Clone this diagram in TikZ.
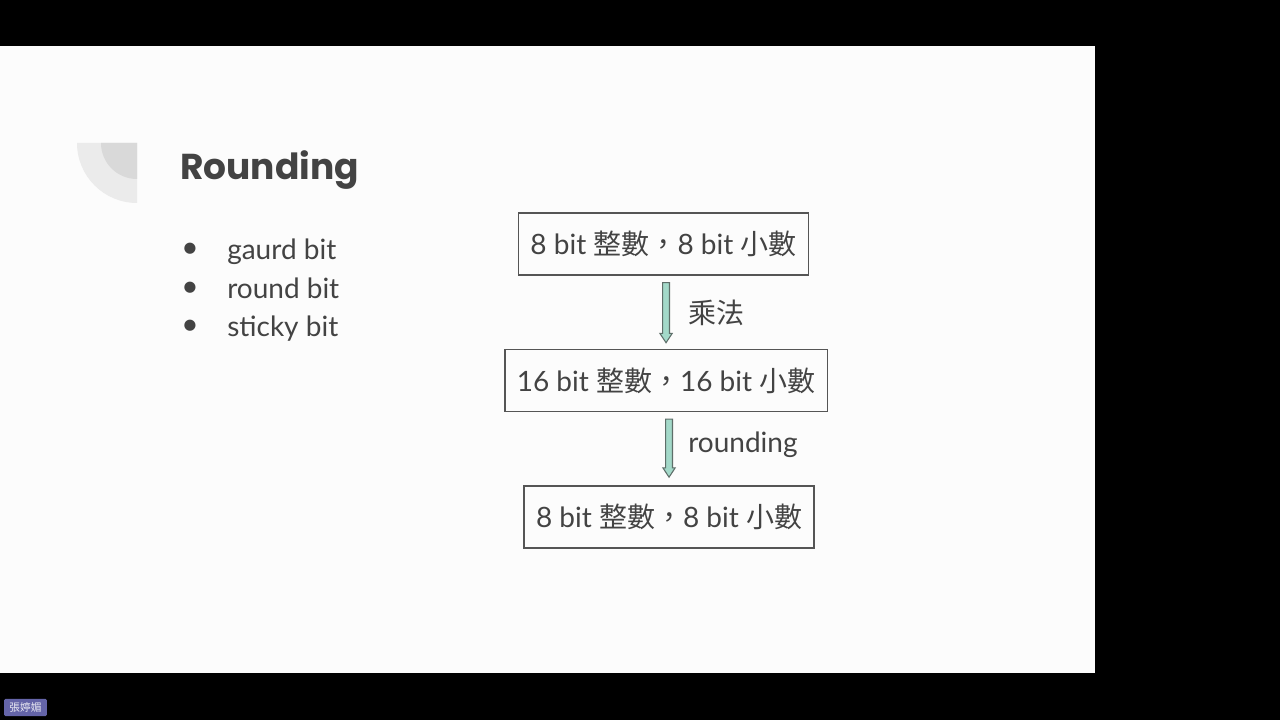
\documentclass[tikz,border=0pt]{standalone}
\usepackage{fontspec}
\setmainfont{Lato}
\newfontfamily\cjk{Noto Sans CJK TC}
\newfontfamily\symb{DejaVu Sans}
\newfontfamily\titlefont{Poppins}
\usetikzlibrary{positioning,calc}
\definecolor{slidetext}{HTML}{434343}
\definecolor{boxline}{HTML}{555555}
\definecolor{mint}{HTML}{A3D9C9}
\definecolor{arrowline}{HTML}{5E6E69}
\definecolor{decolight}{HTML}{EBEBEB}
\definecolor{decodark}{HTML}{D9D9D9}
\definecolor{tagpurple}{HTML}{6464A8}
\tikzset {
        stepbox/.style={align=center, rectangle, draw=boxline, line width=1.1pt, text=slidetext, inner xsep=9pt, inner ysep=0pt, minimum height=46.5pt, font=\fontsize{21}{24}\selectfont},
        lbl/.style={anchor=west, text=slidetext, inner sep=0pt, font=\fontsize{21}{24}\selectfont},
        item/.style={anchor=base west, text=slidetext, inner sep=0pt, font=\fontsize{21}{24}\selectfont},
        dot/.style={text=slidetext, inner sep=0pt, font=\symb\fontsize{11}{11}\selectfont},
        blockarr/.style={draw=arrowline, fill=mint, line width=0.8pt, line join=miter,
            to path={let \p1=(\tikztostart), \p2=(\tikztotarget) in
                (\x1-2.6pt,\y1) -- (\x1-2.6pt,\y2+7pt) -- (\x1-4.6pt,\y2+7pt) -- (\x1,\y2)
                -- (\x1+4.6pt,\y2+7pt) -- (\x1+2.6pt,\y2+7pt) -- (\x1+2.6pt,\y1) -- cycle}}
}
\begin{document}
\begin{tikzpicture}[x=0.75pt, y=-0.75pt]
            \fill[black] (0,0) rectangle (1280,720);
            \fill[white!99!black] (0,46) rectangle (1095,673);
            \useasboundingbox (0,0) rectangle (1280,720);

            \fill[decolight] (137,143) -- (77,143) arc[start angle=180, end angle=90, radius=60] -- cycle;
            \fill[decodark] (137,143) -- (101,143) arc[start angle=180, end angle=90, radius=36] -- cycle;

            \node[anchor=base west, text=slidetext, inner sep=0pt, font=\titlefont\bfseries\fontsize{27}{30}\selectfont] (Title) at (180,180) {Rounding};

            \node[dot] (DotA) at (190,249) {●};
            \node[dot] (DotB) at (190,288) {●};
            \node[dot] (DotC) at (190,326) {●};
            \node[item] (Gaurd) at (227,259) {gaurd bit};
            \node[item] (Round) at (227,298) {round bit};
            \node[item] (Sticky) at (227,336) {sticky bit};

            \node[stepbox] (FixedIn) at (663.5,244) {8 bit {\cjk 整數，}8 bit {\cjk 小數}};
            \node[stepbox, below=54.75pt of FixedIn, xshift=1.9pt] (Product) {16 bit {\cjk 整數，}16 bit {\cjk 小數}};
            \node[stepbox, below=54.75pt of Product, xshift=2.25pt] (FixedOut) {8 bit {\cjk 整數，}8 bit {\cjk 小數}};

            \draw[blockarr] ([yshift=-5.2pt]FixedIn.south -| Product.north) to ([yshift=4.5pt]Product.north);
            \draw[blockarr] ([yshift=-5.2pt]Product.south -| FixedOut.north) to ([yshift=6pt]FixedOut.north);

            \node[lbl] (Mult) at (688,313) {\cjk 乘法};
            \node[lbl] (Rnd) at (688,445) {rounding};

            \node[fill=tagpurple, text=white!85!tagpurple, rounded corners=1pt, inner xsep=1.5pt, inner ysep=1pt, minimum width=32pt, minimum height=13pt, font=\cjk\fontsize{8}{9}\selectfont] (Tag) at (25.5,707.5) {張婷媚};
        \end{tikzpicture}
\end{document}
